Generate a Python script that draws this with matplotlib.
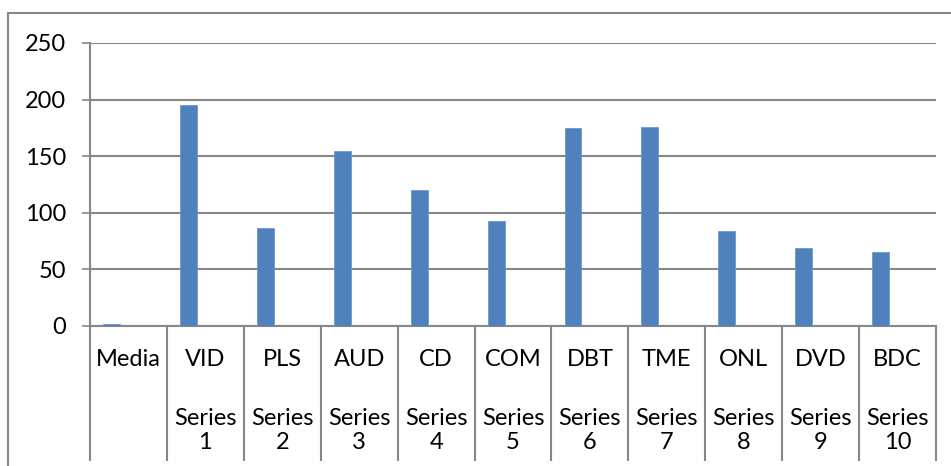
"""Excel-style clustered column chart with a two-level category axis (Agg headless)."""

import matplotlib

matplotlib.use("Agg")

import matplotlib.pyplot as plt
from matplotlib.lines import Line2D
from matplotlib.transforms import blended_transform_factory

categories = ["Media", "VID", "PLS", "AUD", "CD", "COM", "DBT", "TME", "ONL", "DVD", "BDC"]
series_labels = ["", "Series 1", "Series 2", "Series 3", "Series 4", "Series 5",
                 "Series 6", "Series 7", "Series 8", "Series 9", "Series 10"]
values = [2, 195, 87, 155, 120, 93, 175, 176, 84, 69, 65]
y_ticks = [0, 50, 100, 150, 200, 250]

_W, _H = 951, 466
_DPI = 100
_GRID = "#878787"
_BAR = "#4F81BD"
_FONT = 17

plt.rcParams["font.family"] = ["Lato", "DejaVu Sans"]

fig = plt.figure(figsize=(_W / _DPI, _H / _DPI), dpi=_DPI)
# plot area in pixels: x 90..936, y 43..326
ax = fig.add_axes([90 / _W, (_H - 326) / _H, (936 - 90) / _W, (326 - 43) / _H])

x = list(range(len(categories)))
ax.bar([i - 0.22 for i in x], values, width=0.22, color=_BAR, edgecolor="#6C97CC",
       linewidth=0.6, zorder=3)

ax.set_xlim(-0.5, len(categories) - 0.5)
ax.set_ylim(0, 250)
ax.set_yticks(y_ticks)
ax.yaxis.grid(True, color=_GRID, linewidth=1.5, zorder=0)
ax.tick_params(axis="y", length=6, width=1.2, color=_GRID, pad=11, labelsize=_FONT)
ax.set_xticks([])
for side in ("top", "right"):
    ax.spines[side].set_visible(False)
for side in ("left", "bottom"):
    ax.spines[side].set_color(_GRID)
    ax.spines[side].set_linewidth(1.5)

# two-level category axis below the plot
trans = blended_transform_factory(ax.transData, ax.transAxes)
for i, (cat, ser) in enumerate(zip(categories, series_labels)):
    ax.text(i, -0.12, cat, transform=trans, ha="center", va="center", fontsize=_FONT)
    if ser:
        ax.text(i, -0.37, ser.replace(" ", "\n"), transform=trans, ha="center",
                va="center", fontsize=_FONT, linespacing=1.15)
for k in range(len(categories) + 1):
    ax.plot([k - 0.5, k - 0.5], [0, -0.473], transform=trans, color=_GRID,
            linewidth=1.5, clip_on=False)

# outer chart-area border (clipped at right and bottom in the reference)
fig.add_artist(Line2D([8 / _W, 8 / _W], [0, 1 - 13 / _H], color=_GRID, linewidth=1.5))
fig.add_artist(Line2D([8 / _W, 1], [1 - 13 / _H, 1 - 13 / _H], color=_GRID, linewidth=1.5))

fig.savefig("out.png", dpi=_DPI)
